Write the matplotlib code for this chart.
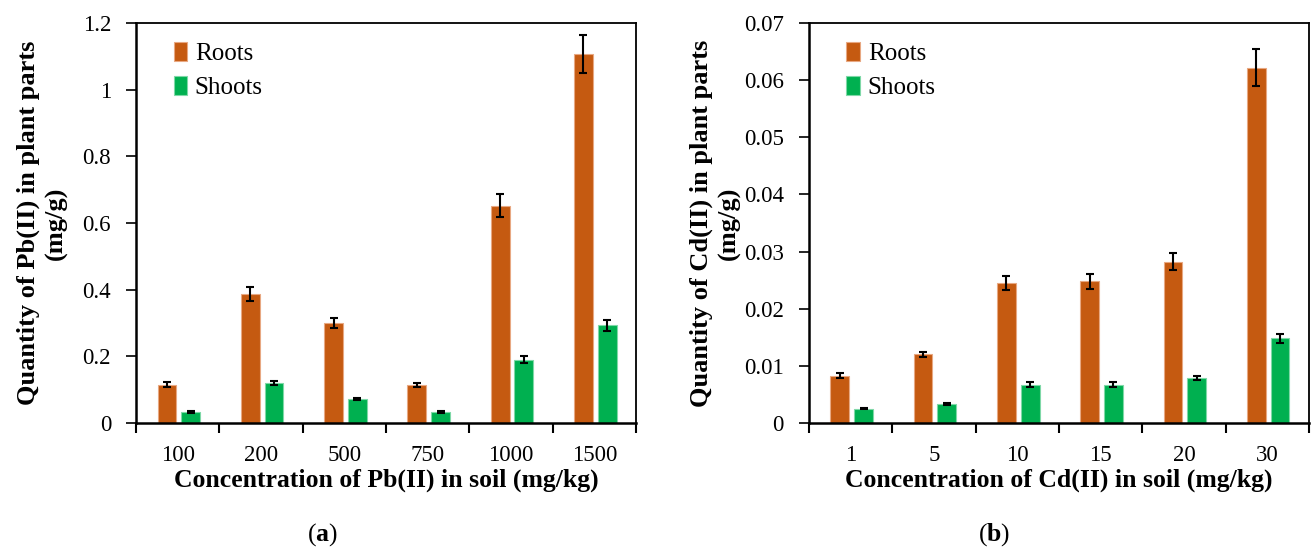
import numpy as np
import matplotlib
matplotlib.use("Agg")
import matplotlib.pyplot as plt
from matplotlib.ticker import FuncFormatter, FixedLocator

plt.rcParams['font.family'] = ['Liberation Serif', 'DejaVu Serif']
plt.rcParams['mathtext.fontset'] = 'custom'
plt.rcParams['mathtext.bf'] = 'Liberation Serif:bold'
plt.rcParams['mathtext.rm'] = 'Liberation Serif'

# Pb(II) uptake
pb_conc = ["100", "200", "500", "750", "1000", "1500"]
pb_roots = [0.115, 0.387, 0.300, 0.113, 0.652, 1.107]
pb_roots_err = [0.007, 0.020, 0.015, 0.006, 0.035, 0.058]
pb_shoots = [0.033, 0.120, 0.072, 0.033, 0.190, 0.293]
pb_shoots_err = [0.002, 0.005, 0.003, 0.003, 0.010, 0.017]

# Cd(II) uptake
cd_conc = ["1", "5", "10", "15", "20", "30"]
cd_roots = [0.0083, 0.0120, 0.0245, 0.0248, 0.0282, 0.0622]
cd_roots_err = [0.0005, 0.0005, 0.0013, 0.0013, 0.0015, 0.0032]
cd_shoots = [0.0025, 0.0033, 0.0067, 0.0067, 0.0079, 0.0148]
cd_shoots_err = [0.0001, 0.0002, 0.0004, 0.0004, 0.0004, 0.0008]

ROOT_COL = "#C55A11"
SHOOT_COL = "#00B050"

fig = plt.figure(figsize=(13.12, 5.52), dpi=100)


def panel(rect, cats, roots, roots_err, shoots, shoots_err, ymax, ystep,
          ylabel, xlabel, tag, tag_x):
    ax = fig.add_axes(rect)
    x = np.arange(len(cats))
    w = 0.225
    err_kw = dict(ecolor="black", elinewidth=1.5, capsize=3, capthick=1.5)
    ax.bar(x - 0.13, roots, w, color=ROOT_COL, edgecolor="#E8A882",
           linewidth=0.8, yerr=roots_err, error_kw=err_kw, label="Roots")
    ax.bar(x + 0.155, shoots, w, color=SHOOT_COL, edgecolor="#7FD8A7",
           linewidth=0.8, yerr=shoots_err, error_kw=err_kw, label="Shoots")

    ax.set_xlim(-0.5, len(cats) - 0.5)
    ax.set_ylim(0, ymax)
    ax.set_yticks(np.arange(0, ymax + ystep / 2, ystep))
    ax.yaxis.set_major_formatter(FuncFormatter(lambda v, p: "%g" % round(v, 4)))

    # category boundaries carry the tick marks, labels sit at centres
    ax.xaxis.set_major_locator(FixedLocator(np.arange(-0.5, len(cats), 1.0)))
    ax.xaxis.set_minor_locator(FixedLocator(x))
    ax.set_xticklabels([""] * (len(cats) + 1))
    ax.set_xticklabels(cats, minor=True)
    ax.tick_params(axis="x", which="major", direction="out", length=7, width=1.5)
    ax.tick_params(axis="x", which="minor", length=0, pad=16, labelsize=16.5)
    ax.tick_params(axis="y", direction="out", length=7, width=1.2, labelsize=16.5, pad=11)

    for s in ax.spines.values():
        s.set_color("black")
        s.set_linewidth(1.3)
    ax.spines["bottom"].set_linewidth(1.8)
    ax.spines["left"].set_linewidth(1.8)

    ax.set_ylabel(ylabel, fontsize=19, fontweight="bold", linespacing=1.25)
    ax.yaxis.set_label_coords(-0.137, 0.5)
    ax.set_xlabel(xlabel, fontsize=18.5, fontweight="bold", labelpad=2)

    ax.legend(loc="upper left", frameon=False, fontsize=18,
              handlelength=0.55, handleheight=0.8, handletextpad=0.3,
              labelspacing=0.45, bbox_to_anchor=(0.03, 1.01))
    fig.text(tag_x, 0.031, "(" + r"$\mathbf{" + tag + "}$" + ")",
             ha="center", va="center", fontsize=18.5)
    return ax


panel([0.1037, 0.2337, 0.381, 0.7246], pb_conc, pb_roots, pb_roots_err,
      pb_shoots, pb_shoots_err, 1.2, 0.2,
      "Quantity of Pb(II) in plant parts\n(mg/g)",
      "Concentration of Pb(II) in soil (mg/kg)", "a", 0.246)
panel([0.6166, 0.2337, 0.381, 0.7246], cd_conc, cd_roots, cd_roots_err,
      cd_shoots, cd_shoots_err, 0.07, 0.01,
      "Quantity of Cd(II) in plant parts\n(mg/g)",
      "Concentration of Cd(II) in soil (mg/kg)", "b", 0.758)

fig.savefig("out.png", dpi=100)
